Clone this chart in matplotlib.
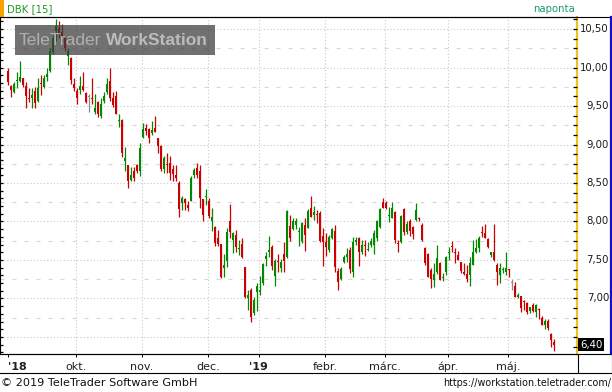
import numpy as np
import matplotlib
matplotlib.use('Agg')
import matplotlib.pyplot as plt
import matplotlib.transforms as mtrans
from matplotlib.patches import Rectangle
from matplotlib.lines import Line2D

# DBK daily candles, Aug 29 2018 .. May 23 2019 (trading-day index)
opens = [9.96, 9.76, 9.68, 9.82, 9.82, 9.86, 9.76, 9.61, 9.60, 9.70,
         9.57, 9.80, 9.75, 9.88, 9.95, 10.20, 10.48, 10.51, 10.46, 10.38,
         10.15, 10.12, 9.79, 9.70, 9.71, 9.76, 9.67, 9.62, 9.60, 9.42,
         9.55, 9.37, 9.57, 9.68, 9.83, 9.61, 9.63, 9.31, 9.32, 8.78,
         8.73, 8.54, 8.65, 8.73, 8.65, 9.10, 9.21, 9.20, 9.15, 9.21,
         9.08, 8.98, 8.68, 8.75, 8.76, 8.68, 8.60, 8.50, 8.24, 8.29,
         8.21, 8.26, 8.60, 8.70, 8.66, 8.29, 8.32, 8.27, 8.01, 7.93,
         7.79, 7.71, 7.39, 7.49, 8.01, 7.76, 7.83, 7.64, 7.71, 7.41,
         7.00, 7.11, 6.81, 7.08, 7.08, 7.20, 7.51, 7.61, 7.67, 7.29,
         7.49, 7.39, 7.58, 7.54, 7.94, 7.90, 7.96, 7.86, 7.75, 7.96,
         7.92, 8.17, 8.09, 8.10, 8.11, 7.81, 7.74, 7.63, 7.78, 7.88,
         7.36, 7.25, 7.48, 7.54, 7.63, 7.34, 7.73, 7.78, 7.61, 7.69,
         7.63, 7.69, 7.69, 7.79, 7.93, 8.25, 8.24, 8.07, 8.05, 8.12,
         7.713, 7.73, 8.16, 7.86, 8.00, 7.93, 8.02, 8.035, 7.96, 7.65,
         7.58, 7.37, 7.24, 7.34, 7.46, 7.26, 7.34, 7.595, 7.675, 7.60,
         7.57, 7.47, 7.34, 7.32, 7.31, 7.44, 7.61, 7.66, 7.85, 7.85,
         7.77, 7.57, 7.61, 7.44, 7.31, 7.368, 7.35, 7.373, 7.20, 7.16,
         7.02, 7.03, 6.96, 6.94, 6.84, 6.92, 6.83, 6.853, 6.75, 6.66,
         6.71, 6.54, 6.44]
highs = [9.99, 9.77, 9.81, 9.94, 10.09, 9.86, 9.81, 9.73, 9.73, 9.75,
         9.86, 9.90, 9.90, 9.99, 10.25, 10.42, 10.63, 10.61, 10.57, 10.40,
         10.25, 10.14, 9.86, 9.73, 9.89, 9.94, 9.68, 9.66, 9.86, 9.65,
         9.57, 9.60, 9.68, 9.86, 9.99, 9.68, 9.70, 9.40, 9.33, 8.97,
         8.73, 8.71, 8.71, 8.75, 9.02, 9.28, 9.27, 9.21, 9.31, 9.37,
         9.09, 8.99, 8.85, 8.89, 8.85, 8.73, 8.73, 8.52, 8.33, 8.31,
         8.26, 8.59, 8.69, 8.76, 8.73, 8.29, 8.42, 8.30, 8.17, 7.94,
         7.89, 7.71, 7.58, 7.91, 8.23, 7.87, 7.89, 7.76, 7.79, 7.41,
         7.11, 7.13, 7.02, 7.20, 7.29, 7.46, 7.61, 7.81, 7.70, 7.51,
         7.58, 7.51, 7.73, 8.15, 8.08, 8.05, 8.05, 7.93, 7.99, 8.05,
         8.16, 8.33, 8.20, 8.15, 8.13, 7.91, 7.85, 7.83, 7.91, 7.96,
         7.39, 7.41, 7.57, 7.65, 7.67, 7.80, 7.80, 7.80, 7.76, 7.76,
         7.74, 7.78, 7.89, 8.02, 8.18, 8.30, 8.26, 8.19, 8.25, 8.14,
         7.76, 8.08, 8.17, 8.00, 8.03, 7.94, 8.24, 8.06, 7.98, 7.67,
         7.59, 7.39, 7.46, 7.70, 7.48, 7.33, 7.55, 7.67, 7.75, 7.65,
         7.62, 7.47, 7.46, 7.44, 7.54, 7.76, 7.77, 7.81, 7.94, 7.97,
         7.78, 7.61, 7.97, 7.46, 7.46, 7.41, 7.61, 7.38, 7.25, 7.21,
         7.07, 7.03, 6.98, 6.95, 6.89, 6.94, 6.93, 6.87, 6.77, 6.74,
         6.73, 6.55, 6.47]
lows = [9.77, 9.62, 9.67, 9.73, 9.81, 9.75, 9.47, 9.55, 9.47, 9.47,
        9.55, 9.64, 9.73, 9.83, 9.94, 10.18, 10.35, 10.38, 10.35, 10.22,
        10.03, 9.79, 9.70, 9.52, 9.66, 9.70, 9.54, 9.42, 9.53, 9.40,
        9.36, 9.35, 9.54, 9.66, 9.57, 9.49, 9.40, 9.23, 8.84, 8.65,
        8.43, 8.52, 8.52, 8.63, 8.59, 9.08, 9.12, 9.02, 9.12, 9.16,
        8.89, 8.66, 8.63, 8.63, 8.54, 8.53, 8.52, 8.06, 8.15, 8.15,
        8.14, 8.26, 8.57, 8.57, 8.17, 8.00, 8.21, 8.05, 7.88, 7.68,
        7.68, 7.26, 7.28, 7.41, 7.78, 7.59, 7.61, 7.57, 7.52, 7.00,
        6.85, 6.69, 6.79, 6.84, 7.05, 7.18, 7.42, 7.54, 7.37, 7.16,
        7.34, 7.34, 7.35, 7.52, 7.75, 7.89, 7.90, 7.68, 7.72, 7.62,
        7.91, 8.06, 8.02, 7.98, 7.74, 7.42, 7.55, 7.61, 7.77, 7.35,
        7.11, 7.24, 7.46, 7.48, 7.33, 7.28, 7.70, 7.42, 7.58, 7.55,
        7.62, 7.67, 7.58, 7.75, 7.92, 8.17, 8.16, 7.99, 8.04, 7.72,
        7.61, 7.72, 7.83, 7.84, 7.81, 7.77, 8.01, 8.00, 7.75, 7.44,
        7.28, 7.13, 7.15, 7.32, 7.24, 7.23, 7.31, 7.50, 7.60, 7.46,
        7.50, 7.33, 7.31, 7.22, 7.16, 7.44, 7.59, 7.60, 7.80, 7.78,
        7.66, 7.54, 7.49, 7.18, 7.20, 7.33, 7.31, 7.28, 7.11, 7.02,
        7.00, 6.82, 6.85, 6.80, 6.81, 6.83, 6.76, 6.73, 6.66, 6.60,
        6.59, 6.37, 6.32]
closes = [9.81, 9.71, 9.79, 9.83, 9.88, 9.77, 9.63, 9.59, 9.64, 9.54,
          9.73, 9.79, 9.86, 9.92, 10.22, 10.38, 10.54, 10.45, 10.38, 10.25,
          10.22, 9.84, 9.73, 9.61, 9.76, 9.71, 9.55, 9.62, 9.59, 9.48,
          9.40, 9.52, 9.63, 9.79, 9.60, 9.51, 9.40, 9.315, 8.89, 8.82,
          8.53, 8.60, 8.57, 8.66, 8.95, 9.20, 9.17, 9.09, 9.19, 9.16,
          8.98, 8.68, 8.83, 8.74, 8.63, 8.62, 8.57, 8.16, 8.31, 8.24,
          8.18, 8.57, 8.67, 8.60, 8.30, 8.08, 8.323, 8.07, 8.06, 7.72,
          7.71, 7.28, 7.44, 7.86, 7.87, 7.85, 7.67, 7.645, 7.54, 7.02,
          7.05, 6.76, 6.98, 7.16, 7.11, 7.45, 7.55, 7.63, 7.42, 7.49,
          7.47, 7.48, 7.49, 8.13, 7.79, 8.01, 8.00, 7.865, 7.98, 7.83,
          8.14, 8.06, 8.12, 8.08, 7.75, 7.73, 7.67, 7.80, 7.90, 7.41,
          7.21, 7.38, 7.54, 7.58, 7.38, 7.74, 7.76, 7.61, 7.70, 7.685,
          7.633, 7.75, 7.85, 8.00, 8.16, 8.18, 8.18, 8.075, 8.17, 7.76,
          7.708, 8.07, 7.87, 7.97, 7.88, 7.84, 8.15, 8.03, 7.76, 7.46,
          7.28, 7.25, 7.32, 7.52, 7.24, 7.265, 7.54, 7.60, 7.67, 7.595,
          7.50, 7.36, 7.32, 7.25, 7.46, 7.61, 7.66, 7.78, 7.845, 7.79,
          7.67, 7.61, 7.50, 7.35, 7.39, 7.373, 7.39, 7.368, 7.20, 7.02,
          7.05, 6.87, 6.95, 6.82, 6.89, 6.84, 6.92, 6.848, 6.66, 6.71,
          6.62, 6.46, 6.40]

month_pos = [0, 22.5, 44.5, 66.5, 83.5, 105.5, 125.5, 146.5, 166.5]
month_labels = ["'18", 'okt.', 'nov.', 'dec.', "'19", 'febr.', 'márc.', 'ápr.', 'máj.']
price_labels = [10.5, 10.0, 9.5, 9.0, 8.5, 8.0, 7.5, 7.0]
last_price = 6.40

GREEN = '#008800'
RED = '#cc0000'
GREY = '#8c8c8c'

fig = plt.figure(figsize=(6.12, 3.92), dpi=100)
W, H = 612.0, 392.0
ax = fig.add_axes([0, (H - 354) / H, 577 / W, (354 - 17) / H])

o = np.array(opens)
hi = np.array(highs)
lo = np.array(lows)
c = np.array(closes)
idx = np.arange(len(c))
cols = np.where(c > o, GREEN, np.where(c < o, RED, GREY))

ax.vlines(idx, lo, hi, colors=cols, lw=0.9, zorder=3)
body = np.maximum(np.abs(c - o), 0.013)
ax.bar(idx, body, bottom=np.minimum(o, c), width=0.72, color=cols, lw=0, zorder=4)

ax.set_xlim(-2.77, 189.57)
ax.set_ylim(6.279, 10.656)

# grid
for p in np.arange(6.5, 10.51, 0.5):
    ax.axhline(p, color='#c8c8c8', lw=0.8, ls=(0, (1.0, 2.0)), zorder=1)
for p in np.arange(6.75, 10.51, 0.5):
    ax.axhline(p, color='#d6d6d6', lw=0.8, ls=(0, (3.6, 7.2)), zorder=1)
for m in month_pos[1:]:
    ax.axvline(m, color='#c8c8c8', lw=0.8, ls=(0, (1.0, 2.0)), zorder=1)

# x axis
ax.set_xticks(month_pos)
ax.set_xticklabels(month_labels, fontsize=8, color='#202020')
for lab, txt in zip(ax.get_xticklabels(), month_labels):
    if txt.startswith("'"):
        lab.set_fontweight('bold')
ax.get_xticklabels()[0].set_horizontalalignment('left')
ax.tick_params(axis='x', direction='out', length=2.5, width=0.7, pad=3)

# left ticks
ax.set_yticks([])
ax.set_yticks(np.arange(6.3, 10.66, 0.1), minor=True)
ax.tick_params(axis='y', which='minor', direction='in', length=2.5, width=0.9, left=True)

for s in ['top', 'bottom', 'left']:
    ax.spines[s].set_color('black')
    ax.spines[s].set_linewidth(0.8)
ax.spines['right'].set_color('#f2c21a')
ax.spines['right'].set_linewidth(1.6)

# right ticks
ax2 = ax.twinx()
ax2.set_ylim(ax.get_ylim())
ax2.set_yticks([])
ax2.set_yticks(np.arange(6.375, 10.66, 0.125), minor=True)
ax2.tick_params(axis='y', which='minor', direction='in', length=3, width=0.9, right=True)
for s in ax2.spines.values():
    s.set_visible(False)

tr = mtrans.blended_transform_factory(fig.transFigure, ax.transData)
for p in price_labels:
    ax.text(609 / W, p, ('%.2f' % p).replace('.', ','), transform=tr,
            ha='right', va='center', fontsize=7.3, color='#1a1a1a', clip_on=False)
ax.text(580 / W, last_price, ('%.2f' % last_price).replace('.', ','), transform=tr,
        ha='left', va='center', fontsize=7.3, color='white', clip_on=False,
        bbox=dict(boxstyle='square,pad=0.15', fc='black', ec='none'))

# frame lines in pixels
def fline(x0, y0, x1, y1, **kw):
    fig.add_artist(Line2D([x0 / W, x1 / W], [1 - y0 / H, 1 - y1 / H], **kw))

fline(0, 17, W, 17, color='black', lw=0.8)
fline(0, 354, W, 354, color='black', lw=0.8)
fline(0, 373, W, 373, color='black', lw=0.8)
fline(577.5, 354, 577.5, 373, color='black', lw=0.8)
fline(611.5, 354, 611.5, 373, color='black', lw=0.8)
fline(610.5, 17, 610.5, 354, color='#1010c8', lw=1.6)

# header
fig.add_artist(Rectangle((0, 1 - 17 / H), 4 / W, 17 / H, color='#f5a300', lw=0))
fig.text(7 / W, 1 - 9 / H, 'DBK [15]', fontsize=7.3, color='#1c9a1c', va='center', ha='left')
fig.text(575 / W, 1 - 9 / H, 'naponta', fontsize=7.3, color='#1a9a6a', va='center', ha='right')

# watermark
fig.add_artist(Rectangle((15 / W, 1 - 55 / H), 200 / W, 30 / H, fc='#3a3a3a', alpha=0.72,
                         lw=0, zorder=10))
fig.text(101 / W, 1 - 40.5 / H, 'TeleTrader', fontsize=12.5, color='#b0b0b0', va='center',
         ha='right', family='Liberation Sans', zorder=11)
fig.text(106 / W, 1 - 40.5 / H, 'WorkStation', fontsize=12.5, color='#bcbcbc', va='center',
         ha='left', fontweight='bold', family='Liberation Sans', zorder=11)

# footer
fig.text(1 / W, 1 - 382.5 / H, '© 2019 TeleTrader Software GmbH', fontsize=8.1,
         color='#111111', va='center', ha='left')
fig.text(611 / W, 1 - 383 / H, 'https://workstation.teletrader.com/', fontsize=6.9,
         color='#111111', va='center', ha='right')

fig.savefig('out.png', dpi=100)
